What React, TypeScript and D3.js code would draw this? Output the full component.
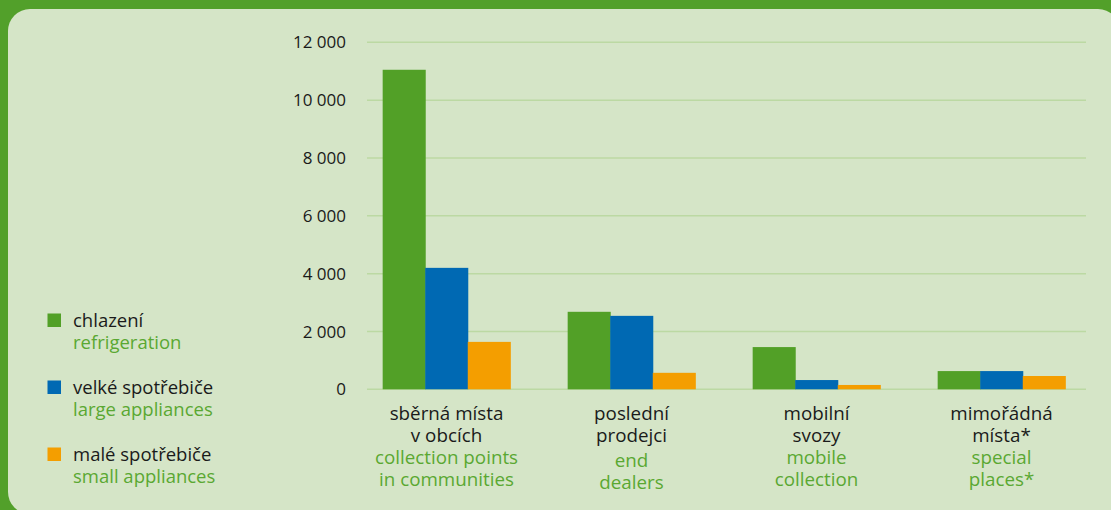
import { formatLocale, scaleBand, scaleLinear, select } from 'd3';
import { useEffect, useRef } from 'react';

// data
const categoriesCz = [
  ['sběrná místa', 'v obcích'],
  ['poslední', 'prodejci'],
  ['mobilní', 'svozy'],
  ['mimořádná', 'místa*']
];
const categoriesEn = [
  ['collection points', 'in communities'],
  ['end', 'dealers'],
  ['mobile', 'collection'],
  ['special', 'places*']
];
const seriesCz = ['chlazení', 'velké spotřebiče', 'malé spotřebiče'];
const seriesEn = ['refrigeration', 'large appliances', 'small appliances'];
const refrigeration = [11050, 2680, 1460, 630];
const largeAppliances = [4200, 2540, 320, 630];
const smallAppliances = [1640, 570, 150, 460];
const yTicks = [0, 2000, 4000, 6000, 8000, 10000, 12000];

const colors = ['#52a027', '#0069b3', '#f49e00'];
const FONT = '"Open Sans", sans-serif';

function App(): JSX.Element {
  const svgRef = useRef<SVGSVGElement | null>(null);
  const width = 1111;
  const height = 510;

  useEffect(() => {
    if (svgRef.current) svgRef.current.innerHTML = '';
    const svg = select(svgRef.current)
      .attr('width', width)
      .attr('height', height)
      .style('font-family', FONT);

    const series = [refrigeration, largeAppliances, smallAppliances];
    const idx = categoriesCz.map((_c, i) => i);

    // background
    svg.append('rect').attr('width', width).attr('height', height).attr('fill', '#52a02a');
    svg
      .append('rect')
      .attr('x', 8)
      .attr('y', 9)
      .attr('width', 1112)
      .attr('height', 505)
      .attr('rx', 22)
      .attr('fill', '#d5e5c7');

    const y = scaleLinear().domain([0, 12000]).range([389.3, 42.3]);
    const x = scaleBand<number>()
      .domain(idx)
      .range([354, 1094])
      .paddingInner(0.31)
      .paddingOuter(0.155);
    const xs = scaleBand<number>().domain([0, 1, 2]).range([0, x.bandwidth()]);

    const fmt = formatLocale({
      decimal: ',',
      thousands: ' ',
      grouping: [3],
      currency: ['', '']
    }).format(',d');

    // grid lines + tick labels
    yTicks.forEach((t) => {
      svg
        .append('line')
        .attr('x1', 367)
        .attr('x2', 1086)
        .attr('y1', y(t))
        .attr('y2', y(t))
        .attr('stroke', '#bcd9a3')
        .attr('stroke-width', 1.5);
      svg
        .append('text')
        .attr('x', 346)
        .attr('y', y(t))
        .attr('dy', '0.36em')
        .attr('text-anchor', 'end')
        .attr('font-size', '17px')
        .attr('font-weight', 500)
        .attr('fill', '#1a1a1a')
        .text(fmt(t));
    });

    // bars
    series.forEach((vals, s) => {
      vals.forEach((v, i) => {
        svg
          .append('rect')
          .attr('x', (x(i) || 0) + (xs(s) || 0))
          .attr('y', y(v))
          .attr('width', xs.bandwidth() + 0.5)
          .attr('height', y(0) - y(v))
          .attr('fill', colors[s]);
      });
    });

    // category labels
    idx.forEach((i) => {
      const cx = (x(i) || 0) + x.bandwidth() / 2;
      const lines = [...categoriesCz[i], ...categoriesEn[i]];
      const extra = i === 1 ? 3 : 0;
      lines.forEach((l, j) => {
        svg
          .append('text')
          .attr('x', cx)
          .attr('y', 419.5 + j * 22.2 + (j > 1 ? extra : 0))
          .attr('text-anchor', 'middle')
          .attr('font-size', '18.8px')
          .attr('font-weight', 500)
          .attr('fill', j < 2 ? '#1a1a1a' : '#5aa832')
          .text(l);
      });
    });

    // legend
    seriesCz.forEach((name, s) => {
      const by = 327 + s * 67;
      svg
        .append('rect')
        .attr('x', 47.5)
        .attr('y', by - 13.5)
        .attr('width', 13.5)
        .attr('height', 13.5)
        .attr('fill', colors[s]);
      svg
        .append('text')
        .attr('x', 73)
        .attr('y', by)
        .attr('font-size', '18.5px')
        .attr('font-weight', 500)
        .attr('fill', '#1a1a1a')
        .text(name);
      svg
        .append('text')
        .attr('x', 73)
        .attr('y', by + 21.5)
        .attr('font-size', '18.5px')
        .attr('font-weight', 500)
        .attr('fill', '#5aa832')
        .text(seriesEn[s]);
    });
  }, []);

  return (
    <div style={{ position: 'absolute', left: 0, top: 0 }}>
      <svg ref={svgRef} style={{ display: 'block' }} />
    </div>
  );
}
export default App;
